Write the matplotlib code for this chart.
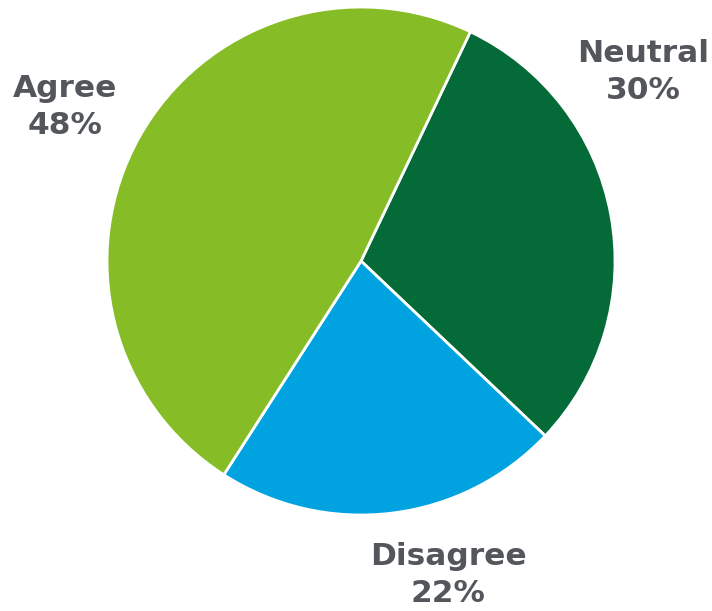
import matplotlib
matplotlib.use("Agg")
import matplotlib.pyplot as plt

categories = ["Neutral", "Disagree", "Agree"]
values = [30, 22, 48]
colors = ["#046A38", "#00A3E0", "#86BC25"]
label_pos = {"Neutral": (1.110, 0.744), "Disagree": (0.343, -1.236), "Agree": (-1.165, 0.606)}

fig = plt.figure(figsize=(7.12, 6.11), dpi=100)
ax = fig.add_axes([0.1503, 0.1571, 0.7135, 0.8314])
wedges, _ = ax.pie(values, colors=colors, startangle=64.5, counterclock=False,
                   wedgeprops=dict(edgecolor="white", linewidth=2))
ax.set_xlim(-1, 1)
ax.set_ylim(-1, 1)
ax.set_aspect("equal")
ax.axis("off")
for cat, val in zip(categories, values):
    x, y = label_pos[cat]
    ax.text(x, y, f"{cat}\n{val}%", ha="center", va="center", fontsize=22.5,
            fontweight="bold", color="#53565A", family="DejaVu Sans",
            linespacing=1.35, clip_on=False)
fig.savefig("out.png", dpi=100)
